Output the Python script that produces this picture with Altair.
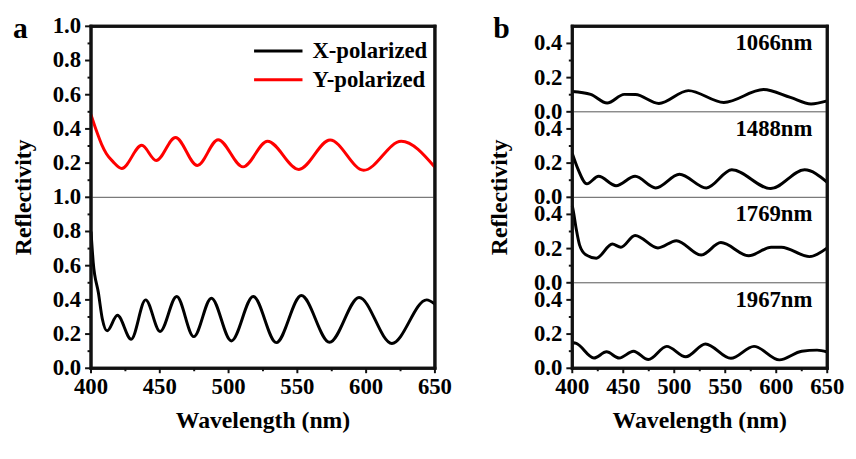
import altair as alt
import pandas as pd

FONT = "Liberation Serif"

# ---------------- Panel a data ----------------
x_pol_wl = [400, 401.6, 405.4, 408.2, 411.7, 419.2, 429.2, 439.7, 450.2, 462.3, 474.7,
            487.5, 502, 517.9, 534.7, 552.9, 573.4, 594.9, 618.7, 644, 650]
x_pol_r = [0.80, 0.62, 0.44, 0.29, 0.219, 0.31, 0.17, 0.40, 0.215, 0.42, 0.185,
           0.41, 0.16, 0.42, 0.15, 0.425, 0.152, 0.414, 0.145, 0.40, 0.375]

y_pol_wl = [400, 404.2, 407.7, 411.2, 415.8, 422.4, 436.9, 447.4, 461.4, 477.3, 492.4,
            510.5, 528.3, 551.1, 573.8, 598.2, 625.5, 650]
y_pol_r = [0.483, 0.383, 0.31, 0.255, 0.21, 0.169, 0.304, 0.215, 0.35, 0.186, 0.337,
           0.178, 0.328, 0.163, 0.335, 0.158, 0.328, 0.176]

# ---------------- Panel b data ----------------
b1066_wl = [400, 418, 434.2, 451, 462, 484.9, 513.8, 548.6, 587.5, 613.9, 634.1, 650]
b1066_r = [0.119, 0.102, 0.051, 0.102, 0.101, 0.049, 0.124, 0.055, 0.13, 0.084, 0.046, 0.064]

b1488_wl = [400, 405.6, 414.3, 425.8, 442.9, 461.6, 481.8, 505.1, 531.5, 556.4, 594.6, 627.8, 650]
b1488_r = [0.256, 0.165, 0.079, 0.123, 0.068, 0.123, 0.055, 0.135, 0.055, 0.161, 0.051, 0.161, 0.088]

b1769_wl = [400, 401, 404, 407.1, 413.3, 423.6, 439.2, 447.6, 461.6, 484, 502.1, 526.4,
            545.7, 573, 595, 605, 632.6, 650]
b1769_r = [0.45, 0.42, 0.31, 0.222, 0.164, 0.144, 0.227, 0.208, 0.277, 0.204, 0.246, 0.162,
           0.235, 0.158, 0.208, 0.208, 0.153, 0.204]

b1967_wl = [400, 404, 421.2, 433.6, 446, 460, 474.6, 492.6, 511.3, 530.6, 555.5, 578.2,
            603, 625, 640, 650]
b1967_r = [0.151, 0.145, 0.06, 0.096, 0.06, 0.10, 0.051, 0.128, 0.067, 0.142, 0.058, 0.128,
           0.049, 0.10, 0.106, 0.095]

series_a = ["X-polarized", "Y-polarized"]
colors_a = ["#000000", "#ff0000"]
offsets_a = [0.0, 1.0]
labels_b = ["1066nm", "1488nm", "1769nm", "1967nm"]
offsets_b = [1.5, 1.0, 0.5, 0.0]

# ticks and tick labels
x_ticks = [400, 450, 500, 550, 600, 650]
x_tick_labels = ["400", "450", "500", "550", "600", "650"]
x_minor = [425, 475, 525, 575, 625]
ya_ticks = [0, 0.2, 0.4, 0.6, 0.8, 1.0, 1.2, 1.4, 1.6, 1.8, 2.0]
ya_tick_labels = ["0.0", "0.2", "0.4", "0.6", "0.8", "1.0", "0.2", "0.4", "0.6", "0.8", "1.0"]
ya_minor = [0.1, 0.3, 0.5, 0.7, 0.9, 1.1, 1.3, 1.5, 1.7, 1.9]
yb_ticks = [0, 0.2, 0.4, 0.5, 0.7, 0.9, 1.0, 1.2, 1.4, 1.5, 1.7, 1.9]
yb_tick_labels = ["0.0", "0.2", "0.4", "0.0", "0.2", "0.4", "0.0", "0.2", "0.4", "0.0", "0.2", "0.4"]
yb_minor = [0.1, 0.3, 0.6, 0.8, 1.1, 1.3, 1.6, 1.8]

W_A, W_B, H = 348, 258, 346
BLACK = "#000000"
INK = "#111111"

# ---------------- build tables ----------------
def table(wl, r, name, off):
    return pd.DataFrame({"wl": wl, "R": r, "series": name, "off": off})

a_df = pd.concat([table(x_pol_wl, x_pol_r, series_a[0], offsets_a[0]),
                  table(y_pol_wl, y_pol_r, series_a[1], offsets_a[1])])
a_df["Y"] = a_df["R"] + a_df["off"]

b_df = pd.concat([table(b1066_wl, b1066_r, labels_b[0], offsets_b[0]),
                  table(b1488_wl, b1488_r, labels_b[1], offsets_b[1]),
                  table(b1769_wl, b1769_r, labels_b[2], offsets_b[2]),
                  table(b1967_wl, b1967_r, labels_b[3], offsets_b[3])])
b_df["Y"] = b_df["R"] + b_df["off"]

xs = alt.Scale(domain=[400, 650], nice=False, zero=False)
ys = alt.Scale(domain=[0, 2], nice=False)
cs = alt.Scale(domain=series_a, range=colors_a)

ONE = pd.DataFrame({"k": [0]})


def X(field):
    return alt.X(field, scale=xs, axis=None)


def Y(field):
    return alt.Y(field, scale=ys, axis=None)


def txt(**kw):
    base = dict(font=FONT, fontWeight="bold", color=BLACK)
    base.update(kw)
    return base


def frame_and_axes(W, y_ticks, y_labels, y_minor, title_dx, letter, letter_dx):
    layers = []
    # frame (box)
    layers.append(alt.Chart(ONE).mark_rule(color=INK, strokeWidth=3, strokeCap="square").encode(
        x=alt.value(0), y=alt.value(0), y2=alt.value(H)))
    layers.append(alt.Chart(ONE).mark_rule(color=INK, strokeWidth=3, strokeCap="square").encode(
        x=alt.value(W), y=alt.value(0), y2=alt.value(H)))
    layers.append(alt.Chart(ONE).mark_rule(color=INK, strokeWidth=3, strokeCap="square").encode(
        y=alt.value(0), x=alt.value(0), x2=alt.value(W)))
    layers.append(alt.Chart(ONE).mark_rule(color=INK, strokeWidth=3, strokeCap="square").encode(
        y=alt.value(H), x=alt.value(0), x2=alt.value(W)))
    # y ticks
    ydf = pd.DataFrame({"v": y_ticks, "lab": y_labels})
    layers.append(alt.Chart(ydf).mark_rule(color=INK, strokeWidth=2).encode(
        y=Y("v:Q"), x=alt.value(-6), x2=alt.value(0)))
    layers.append(alt.Chart(pd.DataFrame({"m": y_minor})).mark_rule(color=INK, strokeWidth=2).encode(
        y=Y("m:Q"), x=alt.value(-3.5), x2=alt.value(0)))
    layers.append(alt.Chart(ydf).mark_text(**txt(fontSize=23, align="right", baseline="middle")).encode(
        y=Y("v:Q"), text="lab:N", x=alt.value(-10)))
    # x ticks
    xdf = pd.DataFrame({"v": x_ticks, "lab": x_tick_labels})
    layers.append(alt.Chart(xdf).mark_rule(color=INK, strokeWidth=2).encode(
        x=X("v:Q"), y=alt.value(H), y2=alt.value(H + 5)))
    layers.append(alt.Chart(pd.DataFrame({"m": x_minor})).mark_rule(color=INK, strokeWidth=2).encode(
        x=X("m:Q"), y=alt.value(H), y2=alt.value(H + 3)))
    layers.append(alt.Chart(xdf).mark_text(**txt(fontSize=23, align="center", baseline="top")).encode(
        x=X("v:Q"), text="lab:N", y=alt.value(H + 8)))
    # axis titles
    layers.append(alt.Chart(pd.DataFrame({"t": ["Wavelength (nm)"]})).mark_text(
        **txt(fontSize=24, align="center", baseline="middle")).encode(
        text="t:N", x=alt.value(W / 2), y=alt.value(H + 53)))
    layers.append(alt.Chart(pd.DataFrame({"t": ["Reflectivity"]})).mark_text(
        **txt(fontSize=24, align="center", baseline="middle", angle=270)).encode(
        text="t:N", x=alt.value(title_dx), y=alt.value(H / 2)))
    # panel letter
    layers.append(alt.Chart(pd.DataFrame({"t": [letter]})).mark_text(
        **txt(fontSize=30, align="left", baseline="alphabetic")).encode(
        text="t:N", x=alt.value(letter_dx), y=alt.value(12)))
    return layers


# ---------------- Panel a ----------------
lines_a = alt.Chart(a_df).mark_line(strokeWidth=3, interpolate="monotone").encode(
    x=X("wl:Q"), y=Y("Y:Q"),
    color=alt.Color("series:N", scale=cs, legend=None),
    detail="series:N",
)
div_a = alt.Chart(pd.DataFrame({"d": [1.0]})).mark_rule(color="#555555", strokeWidth=1).encode(
    y=Y("d:Q"))

legend_layers = []
for name, ypix in zip(series_a, [25, 54]):
    row = pd.DataFrame({"series": [name]})
    legend_layers.append(alt.Chart(row).mark_rule(strokeWidth=3).encode(
        x=alt.value(W_A - 183), x2=alt.value(W_A - 134), y=alt.value(ypix),
        color=alt.Color("series:N", scale=cs, legend=None)))
    legend_layers.append(alt.Chart(row).mark_text(
        **txt(fontSize=23, align="left", baseline="middle")).encode(
        text="series:N", x=alt.value(W_A - 124), y=alt.value(ypix)))

panel_a = alt.layer(
    div_a, lines_a, *legend_layers,
    *frame_and_axes(W_A, ya_ticks, ya_tick_labels, ya_minor, -68, "a", -79)
).properties(width=W_A, height=H)

# ---------------- Panel b ----------------
lines_b = alt.Chart(b_df).mark_line(strokeWidth=3, interpolate="monotone", color=BLACK).encode(
    x=X("wl:Q"), y=Y("Y:Q"), detail="series:N",
)
div_b = alt.Chart(pd.DataFrame({"d": [0.5, 1.0, 1.5]})).mark_rule(color="#555555", strokeWidth=1).encode(
    y=Y("d:Q"))
lab_b = alt.Chart(pd.DataFrame({"t": labels_b, "off": offsets_b})).transform_calculate(
    ly="datum.off + 0.4").mark_text(
    **txt(fontSize=23, align="right", baseline="middle")
).encode(text="t:N", y=Y("ly:Q"), x=alt.value(W_B - 15))

panel_b = alt.layer(
    div_b, lines_b, lab_b,
    *frame_and_axes(W_B, yb_ticks, yb_tick_labels, yb_minor, -73, "b", -80)
).properties(width=W_B, height=H)

chart = alt.hconcat(panel_a, panel_b, spacing=33).configure(
    padding={"left": 2, "top": 2, "right": 2, "bottom": 0},
    view=alt.ViewConfig(stroke=INK, strokeWidth=3),
)

chart.save("out.html", embed_options={"renderer": "svg", "actions": False})
